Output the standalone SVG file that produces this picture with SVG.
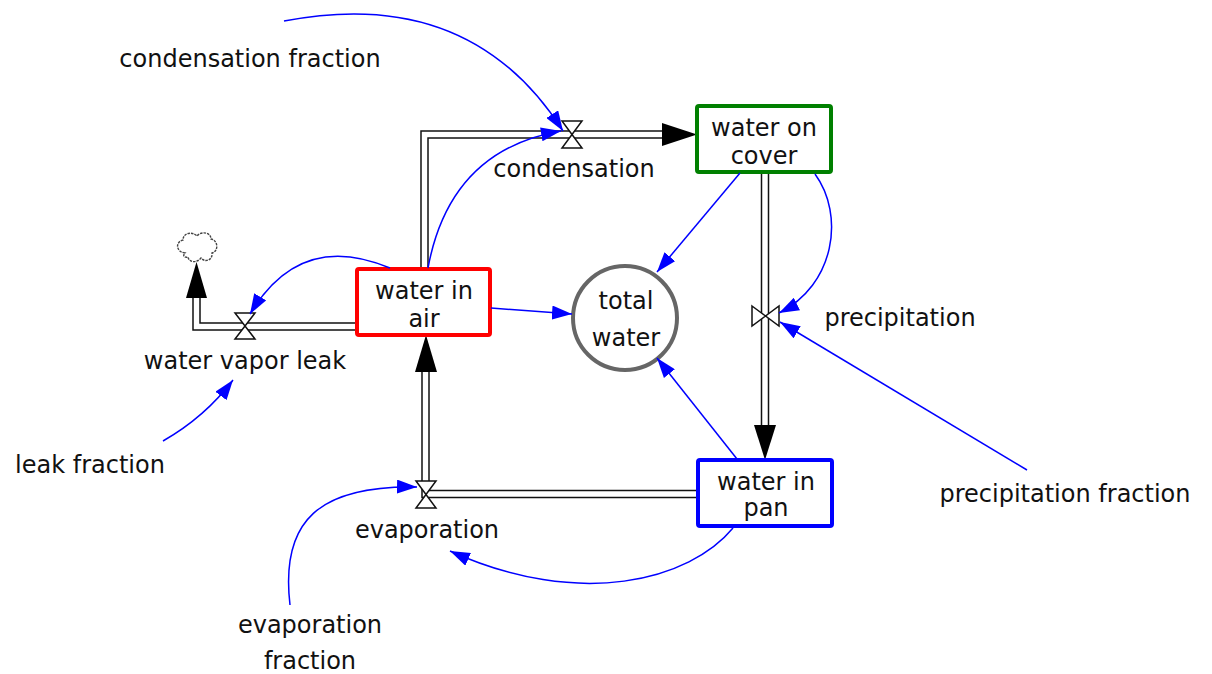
<svg xmlns="http://www.w3.org/2000/svg" width="1212" height="674" viewBox="0 0 1212 674">
<style>
  text { font-family: "DejaVu Sans", "Liberation Sans", sans-serif; font-size: 24px; fill: #111; text-anchor: middle; }
  .pipeOuter { fill: none; stroke: #111; stroke-width: 8.5; }
  .pipeInner { fill: none; stroke: #fff; stroke-width: 5.5; }
  .flowHead { fill: #000; }
  .valve { fill: #fff; stroke: #111; stroke-width: 1.5; stroke-linejoin: miter; }
  .stock { fill: #fff; stroke-width: 4; }
  .link { fill: none; stroke: #0000ff; stroke-width: 1.5; marker-end: url(#ah); }
</style>
<defs>
  <marker id="ah" viewBox="0 0 20 14" refX="20" refY="7" markerWidth="20" markerHeight="14" markerUnits="userSpaceOnUse" orient="auto">
    <path d="M0,0 L20,7 L0,14 z" fill="#0000ff"/>
  </marker>
</defs>
<rect width="1212" height="674" fill="#fff"/>

<g id="flows">
  <path class="pipeOuter" d="M424.5,269 V134.5 H663"/>
  <path class="pipeInner" d="M424.5,269 V134.5 H663"/>
  <path class="flowHead" d="M662,123 L697,134.5 L662,146 z"/>

  <path class="pipeOuter" d="M357,326.5 H196.5 V297"/>
  <path class="pipeInner" d="M357,326.5 H196.5 V297"/>
  <path class="flowHead" d="M186,298 L196.5,262 L207,298 z"/>

  <path class="pipeOuter" d="M698,494 H425.5 V371"/>
  <path class="pipeInner" d="M698,494 H425.5 V371"/>
  <path class="flowHead" d="M415,372 L426,335 L437,372 z"/>

  <path class="pipeOuter" d="M765,172 V426"/>
  <path class="pipeInner" d="M765,172 V426"/>
  <path class="flowHead" d="M754,425 L765,460 L776,425 z"/>
</g>

<g id="cloud">
  <path d="M185,253 C176,252 175,242 183,240 C183,233 192,231 197,236 C201,231 211,232 211,239 C218,240 219,251 212,253 C213,260 205,263 201,258 C197,263 189,263 188,257 C185,258 182,256 185,253 z" fill="#fff" stroke="#444" stroke-width="1.4" stroke-dasharray="2.5 1"/>
</g>

<g id="condensation">
  <polygon class="valve" points="562,121 582,121 562,148 582,148"/>
  <text x="574" y="177">condensation</text>
</g>
<g id="water_vapor_leak">
  <polygon class="valve" points="235,313 255,313 235,339 255,339"/>
  <text x="245" y="369">water vapor leak</text>
</g>
<g id="evaporation">
  <polygon class="valve" points="416,481 436,481 416,508 436,508"/>
  <text x="427" y="538">evaporation</text>
</g>
<g id="precipitation">
  <polygon class="valve" points="752,306 779,326 779,306 752,326"/>
  <text x="900" y="326">precipitation</text>
</g>

<g id="water_on_cover">
  <rect class="stock" x="697" y="106" width="134" height="66" rx="2" stroke="#008000"/>
  <text x="764" y="136">water on</text>
  <text x="764" y="164">cover</text>
</g>
<g id="water_in_air">
  <rect class="stock" x="357" y="269" width="133" height="66" rx="2" stroke="#ff0000"/>
  <text x="424" y="299">water in</text>
  <text x="424" y="327">air</text>
</g>
<g id="water_in_pan">
  <rect class="stock" x="698" y="460" width="134" height="66" rx="2" stroke="#0000ff"/>
  <text x="766" y="490">water in</text>
  <text x="766" y="516">pan</text>
</g>
<g id="total_water">
  <circle cx="625" cy="318" r="52" fill="#fff" stroke="#666" stroke-width="4"/>
  <text x="626" y="309">total</text>
  <text x="626" y="346">water</text>
</g>

<g id="condensation_fraction"><text x="250" y="67">condensation fraction</text></g>
<g id="leak_fraction"><text x="90" y="473">leak fraction</text></g>
<g id="precipitation_fraction"><text x="1065" y="502">precipitation fraction</text></g>
<g id="evaporation_fraction">
  <text x="310" y="633">evaporation</text>
  <text x="310" y="669">fraction</text>
</g>

<g id="connectors">
  <path class="link" d="M284,21 Q470,-15 563,131"/>
  <path class="link" d="M428,268 Q450,150 561,131"/>
  <path class="link" d="M390,268 Q300,230 250,314"/>
  <path class="link" d="M163,441 Q205,417 233,380"/>
  <path class="link" d="M491,308 L572,314"/>
  <path class="link" d="M740,173 L657,272"/>
  <path class="link" d="M737,459 L657,358"/>
  <path class="link" d="M815,174 C845,215 835,285 779,313"/>
  <path class="link" d="M1027,470 L780,322"/>
  <path class="link" d="M290,605 C280,520 320,485 417,487"/>
  <path class="link" d="M733,528 C690,580 580,610 450,551"/>
</g>
</svg>
